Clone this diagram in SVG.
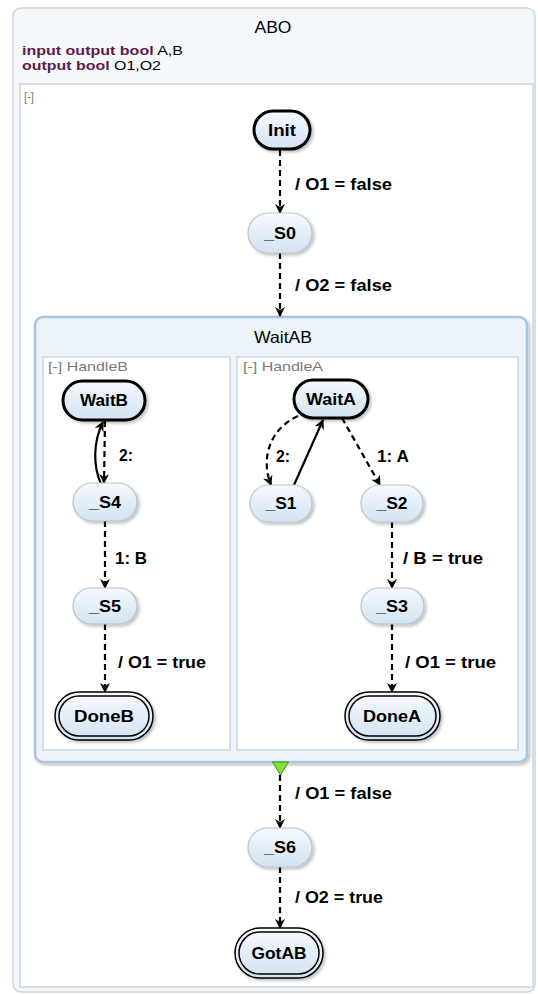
<svg xmlns="http://www.w3.org/2000/svg" width="538" height="994" viewBox="0 0 538 994">
<defs>
<linearGradient id="nf" x1="0" y1="0" x2="0" y2="1">
<stop offset="0" stop-color="#f7fafd"/>
<stop offset="0.5" stop-color="#e3eef8"/>
<stop offset="1" stop-color="#d3e3f2"/>
</linearGradient>
<filter id="sh" x="-20%" y="-20%" width="150%" height="160%">
<feDropShadow dx="2" dy="2" stdDeviation="1.5" flood-color="#000" flood-opacity="0.25"/>
</filter>
<marker id="ah" viewBox="0 0 10 10" refX="9" refY="5" markerWidth="10" markerHeight="10" markerUnits="userSpaceOnUse" orient="auto">
<path d="M0,0 L10,5 L0,10 L3,5 Z" fill="#000"/>
</marker>
</defs>
<style>
.lbl{font-family:"Liberation Sans",Arial,sans-serif;font-weight:bold;font-size:17px;fill:#000}
.nt{font-family:"Liberation Sans",Arial,sans-serif;font-weight:bold;font-size:16px;fill:#000;text-anchor:middle}
.reg{font-family:"Liberation Sans",Arial,sans-serif;font-size:16.5px;fill:#000}
.rg{font-family:"Liberation Sans",Arial,sans-serif;font-size:13.5px;fill:#7a7a7a}
.decl{font-family:"Liberation Sans",Arial,sans-serif;font-size:12px;fill:#000}
.kw{font-weight:bold;fill:#5e1a4e}
.n{fill:url(#nf);stroke:#b3c4d6;stroke-width:1.2;filter:url(#sh)}
.ini{fill:url(#nf);stroke:#000;stroke-width:3;filter:url(#sh)}
.fin{fill:url(#nf);stroke:#000;stroke-width:1.5;filter:url(#sh)}
.fin2{fill:none;stroke:#000;stroke-width:1.5}
.d{fill:none;stroke:#000;stroke-width:2.2;stroke-dasharray:6,4;marker-end:url(#ah)}
.s{fill:none;stroke:#000;stroke-width:2.2;marker-end:url(#ah)}
</style>

<g id="ABO">
<rect x="13" y="8" width="522" height="984" rx="8" fill="#f4f8fb" stroke="#c9d5df" stroke-width="1.5"/>
<text class="reg" x="273" y="33" text-anchor="middle" textLength="37" lengthAdjust="spacingAndGlyphs">ABO</text>
<text class="decl" x="22" y="55" textLength="161" lengthAdjust="spacingAndGlyphs"><tspan class="kw">input output bool</tspan> A,B</text>
<text class="decl" x="22" y="69.5" textLength="139" lengthAdjust="spacingAndGlyphs"><tspan class="kw">output bool</tspan> O1,O2</text>
<rect x="20" y="84" width="513" height="903" fill="#fff" stroke="#c9d5df" stroke-width="1.5"/>
<text class="rg" x="24" y="101" textLength="10" lengthAdjust="spacingAndGlyphs">[-]</text>
</g>

<g id="WaitAB">
<rect x="35" y="317" width="492" height="445" rx="8" fill="#ecf3f9" stroke="#a9c4dc" stroke-width="2.5" filter="url(#sh)"/>
<text class="reg" x="283" y="343" text-anchor="middle" textLength="58" lengthAdjust="spacingAndGlyphs">WaitAB</text>
</g>
<g id="HandleB">
<rect x="43" y="357" width="187" height="393" fill="#fff" stroke="#c9d5df" stroke-width="1.5"/>
<text class="rg" x="48" y="371" textLength="80" lengthAdjust="spacingAndGlyphs">[-] HandleB</text>
</g>
<g id="HandleA">
<rect x="237" y="357" width="281" height="393" fill="#fff" stroke="#c9d5df" stroke-width="1.5"/>
<text class="rg" x="243" y="371" textLength="80" lengthAdjust="spacingAndGlyphs">[-] HandleA</text>
</g>

<g id="connectors">
<path class="d" d="M280,150 L280,213"/>
<path class="d" d="M280,253 L280,316"/>
<path class="d" d="M105,421 L104,483"/>
<path class="s" d="M101,484 C93,466 93,442 103,422"/>
<path class="d" d="M105,521 L105,588"/>
<path class="d" d="M105,624 L105,692"/>
<path class="d" d="M298,416 C268,430 261,460 271,485"/>
<path class="s" d="M294,485 L323,420"/>
<path class="d" d="M342,418 L380,485"/>
<path class="d" d="M392,522 L392,588"/>
<path class="d" d="M392,624 L392,692"/>
<path class="d" d="M280,775 L280,828"/>
<path class="d" d="M280,867 L280,928"/>
<polygon points="272.5,762 288.5,762 280.5,775" fill="#7fe03c" stroke="#3d8a12" stroke-width="1"/>
<text class="lbl" x="295" y="190" textLength="97" lengthAdjust="spacingAndGlyphs">/ O1 = false</text>
<text class="lbl" x="295" y="291" textLength="97" lengthAdjust="spacingAndGlyphs">/ O2 = false</text>
<text class="lbl" x="119" y="461" textLength="14" lengthAdjust="spacingAndGlyphs">2:</text>
<text class="lbl" x="115" y="564" textLength="32" lengthAdjust="spacingAndGlyphs">1: B</text>
<text class="lbl" x="118" y="668" textLength="88" lengthAdjust="spacingAndGlyphs">/ O1 = true</text>
<text class="lbl" x="276" y="462" textLength="14" lengthAdjust="spacingAndGlyphs">2:</text>
<text class="lbl" x="377" y="462" textLength="32" lengthAdjust="spacingAndGlyphs">1: A</text>
<text class="lbl" x="403" y="564" textLength="80" lengthAdjust="spacingAndGlyphs">/ B = true</text>
<text class="lbl" x="405" y="668" textLength="91" lengthAdjust="spacingAndGlyphs">/ O1 = true</text>
<text class="lbl" x="295" y="799" textLength="97" lengthAdjust="spacingAndGlyphs">/ O1 = false</text>
<text class="lbl" x="295" y="903" textLength="88" lengthAdjust="spacingAndGlyphs">/ O2 = true</text>
</g>

<g id="Init"><rect class="ini" x="254" y="111" width="56" height="38" rx="19"/><text class="nt" x="282" y="136" textLength="28" lengthAdjust="spacingAndGlyphs">Init</text></g>
<g id="S0"><rect class="n" x="248" y="213" width="64" height="40" rx="20"/><text class="nt" x="280" y="239" textLength="32" lengthAdjust="spacingAndGlyphs">_S0</text></g>
<g id="WaitB"><rect class="ini" x="63" y="381" width="82" height="39" rx="19.5"/><text class="nt" x="104" y="406" textLength="48" lengthAdjust="spacingAndGlyphs">WaitB</text></g>
<g id="S4"><rect class="n" x="73" y="483" width="64" height="38" rx="19"/><text class="nt" x="105" y="508" textLength="32" lengthAdjust="spacingAndGlyphs">_S4</text></g>
<g id="S5"><rect class="n" x="73" y="588" width="64" height="36" rx="18"/><text class="nt" x="105" y="612" textLength="32" lengthAdjust="spacingAndGlyphs">_S5</text></g>
<g id="DoneB"><rect class="fin" x="55" y="692" width="98" height="48" rx="24"/><rect class="fin2" x="59" y="696" width="90" height="40" rx="20"/><text class="nt" x="104" y="722" textLength="60" lengthAdjust="spacingAndGlyphs">DoneB</text></g>
<g id="WaitA"><rect class="ini" x="294" y="380" width="74" height="38" rx="19"/><text class="nt" x="331" y="405" textLength="50" lengthAdjust="spacingAndGlyphs">WaitA</text></g>
<g id="S1"><rect class="n" x="250" y="485" width="62" height="37" rx="18.5"/><text class="nt" x="281" y="509" textLength="31" lengthAdjust="spacingAndGlyphs">_S1</text></g>
<g id="S2"><rect class="n" x="361" y="485" width="62" height="37" rx="18.5"/><text class="nt" x="392" y="509" textLength="31" lengthAdjust="spacingAndGlyphs">_S2</text></g>
<g id="S3"><rect class="n" x="361" y="588" width="63" height="36" rx="18"/><text class="nt" x="392" y="612" textLength="32" lengthAdjust="spacingAndGlyphs">_S3</text></g>
<g id="DoneA"><rect class="fin" x="345" y="692" width="95" height="48" rx="24"/><rect class="fin2" x="349" y="696" width="87" height="40" rx="20"/><text class="nt" x="392" y="722" textLength="58" lengthAdjust="spacingAndGlyphs">DoneA</text></g>
<g id="S6"><rect class="n" x="248" y="828" width="64" height="39" rx="19.5"/><text class="nt" x="280" y="853" textLength="32" lengthAdjust="spacingAndGlyphs">_S6</text></g>
<g id="GotAB"><rect class="fin" x="235" y="928" width="88" height="50" rx="25"/><rect class="fin2" x="239" y="932" width="80" height="42" rx="21"/><text class="nt" x="279" y="959" textLength="55" lengthAdjust="spacingAndGlyphs">GotAB</text></g>
</svg>
